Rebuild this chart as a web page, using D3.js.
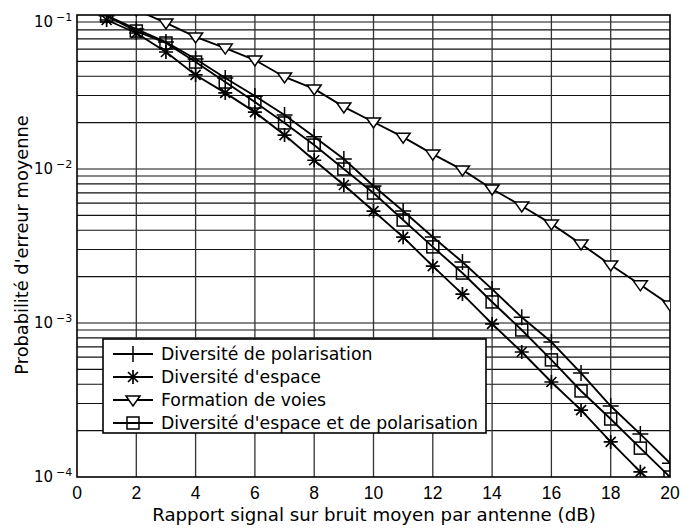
<!DOCTYPE html>
<html>
<head>
<meta charset="utf-8">
<script src="https://cdn.jsdelivr.net/npm/d3@7"></script>
<style>
  body { margin: 0; background: #fff; }
  svg { font-family: "DejaVu Sans", sans-serif; }
</style>
</head>
<body>
<svg id="chart" width="693" height="529"></svg>
<script>
// SNR values (dB)
const snr = d3.range(1, 21);

const polarisation = [0.099, 0.0811, 0.0668, 0.0518, 0.039, 0.0298, 0.0224, 0.0162, 0.0116, 0.00776,
  0.00534, 0.00362, 0.00249, 0.00166, 0.00109, 0.000753, 0.000473, 0.000289, 0.00019, 0.000123];
const espace = [0.0928, 0.0764, 0.0575, 0.0408, 0.0312, 0.0234, 0.0166, 0.0114, 0.00787, 0.00533,
  0.00361, 0.00234, 0.00154, 0.000986, 0.000648, 0.000414, 0.000272, 0.000169, 0.000108, 0.000072];
const voiesSnr = d3.range(2, 21);
const voies = [0.108, 0.0888, 0.072, 0.061, 0.051, 0.0396, 0.0331, 0.0253, 0.0202, 0.0161,
  0.0125, 0.00986, 0.00742, 0.00575, 0.0044, 0.00326, 0.00238, 0.00177, 0.00131];
const espacePol = [0.0985, 0.0787, 0.0658, 0.0495, 0.0367, 0.0272, 0.0199, 0.0143, 0.01, 0.00698,
  0.00466, 0.00312, 0.00211, 0.00137, 0.000901, 0.000576, 0.000362, 0.000238, 0.000154, 0.0001];

const xTicks = d3.range(0, 21, 2);
const yDecades = [-1, -2, -3, -4];

const series = [
  { name: "Diversité de polarisation", xs: snr, ys: polarisation, marker: "plus" },
  { name: "Diversité d'espace", xs: snr, ys: espace, marker: "star" },
  { name: "Formation de voies", xs: voiesSnr, ys: voies, marker: "tri" },
  { name: "Diversité d'espace et de polarisation", xs: snr, ys: espacePol, marker: "square" },
];

const pl = 77, pr = 670, pt = 15, pb = 477;
const x = d3.scaleLinear().domain([0, 20]).range([pl, pr]);
const y = d3.scaleLog().domain([1e-4, 1e-1]).range([pb, pt]);

const svg = d3.select("#chart");

svg.append("defs").append("clipPath").attr("id", "plot")
  .append("rect").attr("x", pl).attr("y", pt).attr("width", pr - pl).attr("height", pb - pt);

// grid
const minor = [];
for (let k = -4; k < -1; k++) for (let m = 1; m < 10; m++) if (!(k === -4 && m === 1)) minor.push(m * Math.pow(10, k));
svg.append("g").selectAll("line").data(minor).enter().append("line")
  .attr("x1", pl).attr("x2", pr)
  .attr("y1", (d) => y(d)).attr("y2", (d) => y(d))
  .attr("stroke", "#111").attr("stroke-width", 1.1);
svg.append("g").selectAll("line").data(xTicks.slice(1, -1)).enter().append("line")
  .attr("x1", (d) => x(d)).attr("x2", (d) => x(d))
  .attr("y1", pt).attr("y2", pb)
  .attr("stroke", "#333").attr("stroke-width", 1.3);

svg.append("rect").attr("x", pl).attr("y", pt).attr("width", pr - pl).attr("height", pb - pt)
  .attr("fill", "none").attr("stroke", "#000").attr("stroke-width", 1.6);

// tick labels
svg.append("g").selectAll("text").data(xTicks).enter().append("text")
  .attr("x", (d) => x(d)).attr("y", 499)
  .attr("text-anchor", "middle").attr("font-family", "Liberation Sans, Arial, sans-serif")
  .attr("font-size", 17.5).text((d) => d);

const yl = svg.append("g").selectAll("g").data(yDecades).enter().append("g")
  .attr("transform", (d) => `translate(0,${Math.max(y(Math.pow(10, d)) + 5, 27)})`);
yl.append("text").attr("x", 53).attr("text-anchor", "end").attr("font-size", 15).text("10");
yl.append("text").attr("x", 56).attr("y", -6).attr("font-size", 11).text((d) => "\u2212" + -d);

svg.append("text").attr("x", 374).attr("y", 521).attr("text-anchor", "middle")
  .attr("font-size", 18.2).text("Rapport signal sur bruit moyen par antenne (dB)");
svg.append("text").attr("transform", "translate(28,245) rotate(-90)").attr("text-anchor", "middle")
  .attr("font-size", 17.8).text("Probabilité d'erreur moyenne");

function drawMarker(g, type) {
  const s = { fill: "none", stroke: "#000", "stroke-width": 1.5 };
  const add = (tag, attrs) => {
    const el = g.append(tag);
    Object.entries({ ...s, ...attrs }).forEach(([k, v]) => el.attr(k, v));
  };
  if (type === "plus") {
    add("path", { d: "M-8,0H8M0,-8V8" });
  } else if (type === "star") {
    add("path", { d: "M-7,0H7M0,-7V7M-5,-5L5,5M-5,5L5,-5", "stroke-width": 1.7 });
  } else if (type === "tri") {
    add("path", { d: "M-7,-4L7,-4L0,6Z", fill: "#fff" });
  } else {
    add("rect", { x: -6, y: -6, width: 12, height: 12 });
  }
}

const line = d3.line().x((d) => x(d[0])).y((d) => y(d[1]));
const plot = svg.append("g").attr("clip-path", "url(#plot)");

series.forEach((s) => {
  const pts = s.xs.map((v, i) => [v, s.ys[i]]);
  plot.append("path").datum(pts).attr("d", line)
    .attr("fill", "none").attr("stroke", "#000").attr("stroke-width", 1.9);
  plot.selectAll(null).data(pts).enter().append("g")
    .attr("transform", (d) => `translate(${x(d[0])},${y(d[1])})`)
    .each(function () { drawMarker(d3.select(this), s.marker); });
});

// legend
const legend = svg.append("g");
legend.append("rect").attr("x", 103).attr("y", 339).attr("width", 383).attr("height", 94)
  .attr("fill", "#fff").attr("stroke", "#000").attr("stroke-width", 1.6);
series.forEach((s, i) => {
  const ry = 354 + i * 23;
  legend.append("line").attr("x1", 113).attr("x2", 153).attr("y1", ry).attr("y2", ry)
    .attr("stroke", "#000").attr("stroke-width", 1.9);
  drawMarker(legend.append("g").attr("transform", `translate(133,${ry})`), s.marker);
  legend.append("text").attr("x", 161).attr("y", ry + 6).attr("font-size", 17.3).text(s.name);
});
</script>
</body>
</html>
